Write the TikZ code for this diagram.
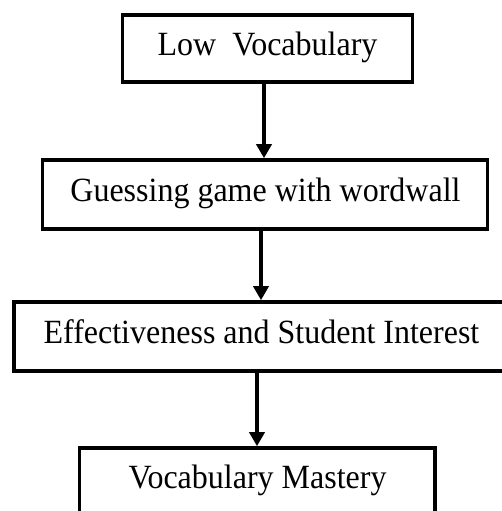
\documentclass[tikz,border=0pt]{standalone}
\usepackage{fontspec}
\setmainfont{Liberation Serif}
\usetikzlibrary{arrows.meta}
\newcommand{\tallish}[1]{\scalebox{1}[1.06]{#1}}
\begin{document}
\begin{tikzpicture}[x=1pt,y=-1pt,
  box/.style={draw=black, line width=3.6pt, rectangle, inner sep=0pt, fill=none},
  lbl/.style={anchor=base, inner sep=0pt, font=\fontsize{32}{36}\selectfont},
  arr/.style={line width=3.6pt, -{Triangle[length=14pt,width=15pt]}}]
\useasboundingbox (0,0) rectangle (501,511);
\fill[white] (0,0) rectangle (501,511);
% boxes
\node[box, minimum width=290pt, minimum height=67pt] (b1) at (267.5,48.5) {};
\node[box, minimum width=445pt, minimum height=69pt] (b2) at (265,194.5) {};
\node[box, minimum width=491pt, minimum height=69pt] (b3) at (259.5,336.5) {};
\node[box, minimum width=355.5pt, minimum height=70pt] (b4) at (257.25,483) {};
% texts
\node[lbl] (t1) at (267.5,56) {\tallish{Low\ \ Vocabulary}};
\node[lbl] (t2) at (265.5,201.5) {\tallish{Guessing game with wordwall}};
\node[lbl] (t3) at (261.5,343) {\tallish{Effectiveness and Student Interest}};
\node[lbl] (t4) at (257.5,488.5) {\tallish{Vocabulary Mastery}};
% arrows
\draw[arr] ([xshift=-3.5pt]b1.south) -- ([xshift=-1pt]b2.north);
\draw[arr] ([xshift=-4pt]b2.south) -- ([xshift=1.5pt]b3.north);
\draw[arr] ([xshift=-2.5pt]b3.south) -- ([xshift=-0.25pt]b4.north);
\end{tikzpicture}
\end{document}
